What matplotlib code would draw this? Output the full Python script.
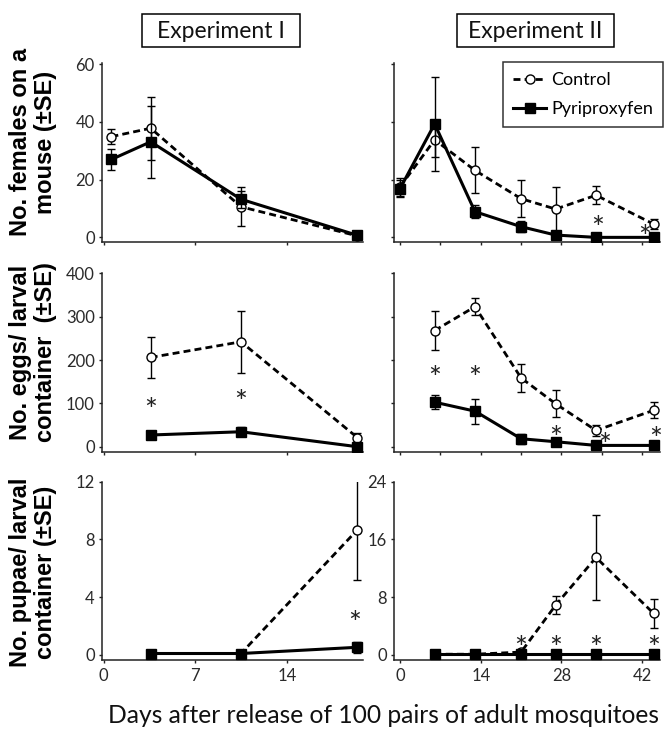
import matplotlib
matplotlib.use("Agg")
import matplotlib.pyplot as plt
from matplotlib.patches import Rectangle

# ---------------- data ----------------
days_exp1 = [0.6, 3.6, 10.5, 19.4]
days_exp2_top = [0, 6, 13, 21, 27, 34, 44]
days_exp2 = [6, 13, 21, 27, 34, 44]

# females on a mouse
fem1_ctrl = [34.9, 37.8, 10.6, 0.5]
fem1_ctrl_se = [2.5, 10.9, 6.7, 0.0]
fem1_pyr = [27.0, 33.1, 13.2, 0.7]
fem1_pyr_se = [3.6, 12.5, 3.0, 0.0]

fem2_ctrl = [17.5, 33.8, 23.2, 13.4, 9.8, 14.6, 4.6]
fem2_ctrl_se = [3.0, 5.8, 8.0, 6.4, 7.5, 3.2, 1.7]
fem2_pyr = [16.9, 39.3, 8.9, 3.7, 0.8, 0.0, 0.0]
fem2_pyr_se = [3.0, 16.2, 2.3, 2.0, 0.5, 0.0, 0.0]

# eggs per larval container
egg1_ctrl = [206, 242, 21]
egg1_ctrl_se = [47.5, 72, 11]
egg1_pyr = [27, 34.5, 0]
egg1_pyr_se = [0, 10, 0]

egg2_ctrl = [268, 323, 158.6, 99, 37.5, 84]
egg2_ctrl_se = [44, 19, 31.5, 31, 12, 18]
egg2_pyr = [102.7, 82, 18.4, 11.5, 3, 3]
egg2_pyr_se = [16, 29, 12, 5, 0, 0]

# pupae per larval container
pup1_ctrl = [0.1, 0.1, 8.67]
pup1_ctrl_se = [0, 0, 3.5]
pup1_pyr = [0.1, 0.1, 0.53]
pup1_pyr_se = [0, 0, 0.4]

pup2_ctrl = [0.1, 0.1, 0.4, 6.9, 13.5, 5.75]
pup2_ctrl_se = [0, 0, 0.1, 1.2, 5.9, 2.0]
pup2_pyr = [0.1, 0.1, 0.1, 0.1, 0.1, 0.1]
pup2_pyr_se = [0, 0, 0, 0, 0, 0]

# significance asterisks (x, y)
stars_fem2 = [(34.2, 6.0), (42.5, 3.1)]
stars_egg1 = [(3.6, 105), (10.5, 122)]
stars_egg2 = [(6, 178), (13, 178), (27, 40), (35.5, 23), (44.3, 36)]
stars_pup1 = [(19.2, 2.76)]
stars_pup2 = [(21, 2.07), (27, 2.07), (34, 2.07), (44, 2.07)]

titles = ["Experiment I", "Experiment II"]
ylabels = ["No. females on a\nmouse (\u00b1SE)",
           "No. eggs/ larval\ncontainer  (\u00b1SE)",
           "No. pupae/ larval\ncontainer (\u00b1SE)"]
xlabel = "Days after release of 100 pairs of adult mosquitoes"
legend_labels = ["Control", "Pyriproxyfen"]

# ---------------- figure ----------------
W, H = 672, 734
fig = plt.figure(figsize=(W / 100, H / 100), dpi=100)

def rect(x0, y0, x1, y1):
    return [x0 / W, 1 - y1 / H, (x1 - x0) / W, (y1 - y0) / H]

colx = [(102.3, 363.3), (394.3, 660.0)]
rowy = [(62.7, 241.7), (273.3, 451.7), (481.7, 660.0)]

tick_color = "#2a2a2a"

axes = {}
for r in range(3):
    for c in range(2):
        ax = fig.add_axes(rect(colx[c][0], rowy[r][0], colx[c][1], rowy[r][1]))
        for s in ["top", "right"]:
            ax.spines[s].set_visible(False)
        for s in ["left", "bottom"]:
            ax.spines[s].set_linewidth(1.1)
            ax.spines[s].set_color("#222222")
        ax.tick_params(direction="out", length=2.5, width=1.0, color="#222222",
                       labelcolor=tick_color, pad=3)
        axes[(r, c)] = ax

ctrl_style = dict(color="black", lw=2.0, ls=(0, (2.5, 1.5)), marker="o",
                  ms=6.5, mfc="white", mec="black", mew=1.0, zorder=3)
pyr_style = dict(color="black", lw=2.2, ls="-", marker="s", ms=7.2,
                 mfc="black", mec="black", zorder=5)
err_style = dict(fmt="none", ecolor="black", elinewidth=1.0, capsize=2.6,
                 capthick=1.0)

STAR_FS = 22

def draw(ax, x, yc, ec, yp, ep, stars):
    ax.errorbar(x, yc, yerr=ec, zorder=2, **err_style)
    lc, = ax.plot(x, yc, **ctrl_style)
    ax.errorbar(x, yp, yerr=ep, zorder=4, **err_style)
    lp, = ax.plot(x, yp, **pyr_style)
    for (sx, sy) in stars:
        ax.annotate("*", (sx, sy), xytext=(0, -0.6 * STAR_FS),
                    textcoords="offset points", ha="center", va="baseline",
                    fontfamily="Lato", fontsize=STAR_FS,
                    color="#222222", zorder=6)
    return lc, lp

draw(axes[(0, 0)], days_exp1, fem1_ctrl, fem1_ctrl_se, fem1_pyr, fem1_pyr_se, [])
lc, lp = draw(axes[(0, 1)], days_exp2_top, fem2_ctrl, fem2_ctrl_se, fem2_pyr, fem2_pyr_se, stars_fem2)
draw(axes[(1, 0)], days_exp1[1:], egg1_ctrl, egg1_ctrl_se, egg1_pyr, egg1_pyr_se, stars_egg1)
draw(axes[(1, 1)], days_exp2, egg2_ctrl, egg2_ctrl_se, egg2_pyr, egg2_pyr_se, stars_egg2)
draw(axes[(2, 0)], days_exp1[1:], pup1_ctrl, pup1_ctrl_se, pup1_pyr, pup1_pyr_se, stars_pup1)
draw(axes[(2, 1)], days_exp2, pup2_ctrl, pup2_ctrl_se, pup2_pyr, pup2_pyr_se, stars_pup2)

# limits and ticks
ylims = [(-1.5, 60.5), (-11.5, 400)]
yticks = [[0, 20, 40, 60], [0, 100, 200, 300, 400]]
for r in range(2):
    for c in range(2):
        ax = axes[(r, c)]
        ax.set_ylim(*ylims[r])
        ax.set_yticks(yticks[r])
axes[(2, 0)].set_ylim(-0.35, 12)
axes[(2, 0)].set_yticks([0, 4, 8, 12])
axes[(2, 1)].set_ylim(-0.7, 24)
axes[(2, 1)].set_yticks([0, 8, 16, 24])

for r in range(3):
    axes[(r, 0)].set_xlim(-0.1, 19.85)
    axes[(r, 0)].set_xticks([0, 7, 14])
    axes[(r, 1)].set_xlim(-1.0, 45.1)
    if r < 2:
        axes[(r, 1)].set_xticks([0, 7, 14, 21, 28, 35, 42])
    else:
        axes[(r, 1)].set_xticks([0, 14, 28, 42])

for r in range(2):
    for c in range(2):
        axes[(r, c)].set_xticklabels([])
    axes[(r, 1)].set_yticklabels([])

for ax in axes.values():
    for lab in ax.get_xticklabels() + ax.get_yticklabels():
        lab.set_fontfamily("Lato")
        lab.set_fontsize(12)

# title boxes
for (x0, x1), t in zip([(142, 300), (457, 614)], titles):
    fig.patches.append(Rectangle((x0 / W, 1 - 47 / H), (x1 - x0) / W, 33 / H,
                                 transform=fig.transFigure, fill=False,
                                 lw=1.1, ec="black"))
    fig.text((x0 + x1) / 2 / W, 1 - 31 / H, t, ha="center", va="center",
             fontfamily="Lato", fontsize=16.5, color="#111111")

# legend
leg = axes[(0, 1)].legend([lc, lp], legend_labels, loc="upper right",
                          bbox_to_anchor=(663 / W, 1 - 62 / H),
                          bbox_transform=fig.transFigure, borderaxespad=0,
                          frameon=True, fancybox=False, edgecolor="black",
                          handlelength=1.8, handletextpad=0.3,
                          labelspacing=0.75, borderpad=0.55,
                          prop=dict(family="Lato", size=13))
leg.get_frame().set_linewidth(1.1)

# y labels
for ylab, yc in zip(ylabels, [142, 352, 572]):
    fig.text(33 / W, 1 - yc / H, ylab, rotation=90, ha="center", va="center",
             multialignment="center", fontfamily="Liberation Sans",
             fontweight="bold", fontsize=17, linespacing=1.15)

# x label
fig.text(384 / W, 1 - 723.4 / H, xlabel, ha="center", va="baseline",
         fontfamily="Lato", fontsize=17.7, color="#111111")

fig.savefig("out.png", dpi=100)
